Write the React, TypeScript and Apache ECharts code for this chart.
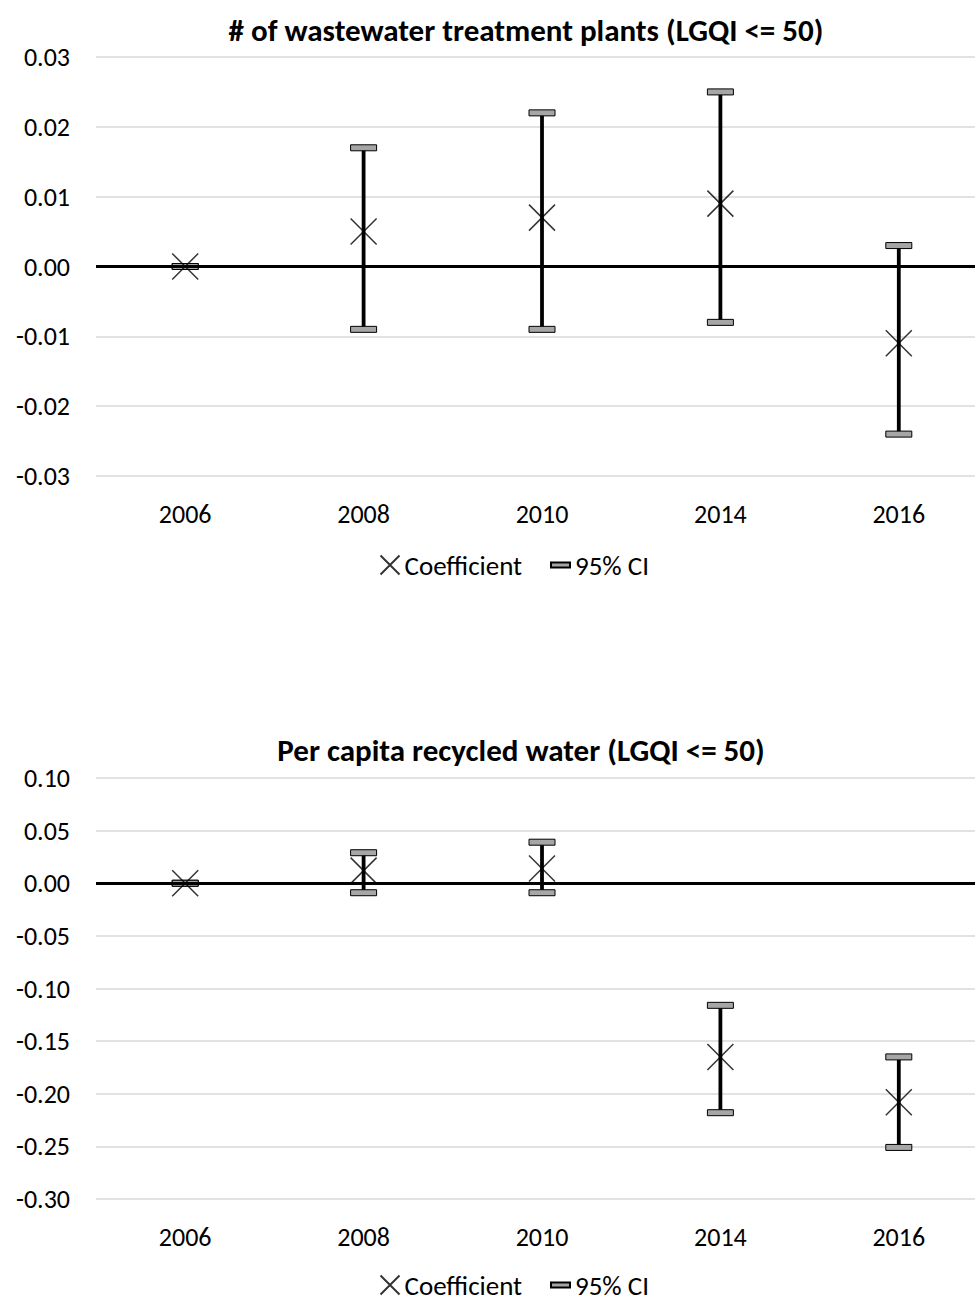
import React, { useEffect, useRef } from "react";
import * as echarts from "echarts";

const years = ["2006", "2008", "2010", "2014", "2016"];

// Top chart: # of wastewater treatment plants
const topCoef = [0, 0.005, 0.007, 0.009, -0.011];
const topLower = [0, -0.009, -0.009, -0.008, -0.024];
const topUpper = [0, 0.017, 0.022, 0.025, 0.003];

// Bottom chart: per capita recycled water
const botCoef = [0, 0.012, 0.014, -0.165, -0.208];
const botLower = [0, -0.009, -0.009, -0.218, -0.251];
const botUpper = [0, 0.029, 0.039, -0.116, -0.165];

const FONT = "Carlito, Lato, 'Open Sans', sans-serif";
const X_PATH = "path://M0,0L10,10M10,0L0,10";

function ciRender(params: any, api: any) {
  const x = api.value(0);
  const lo = api.value(1);
  const hi = api.value(2);
  const pLo = api.coord([x, lo]);
  const pHi = api.coord([x, hi]);
  const w = 26;
  const h = 6;
  const capStyle = { fill: "#a6a6a6", stroke: "#000", lineWidth: 1 };
  return {
    type: "group",
    children: [
      {
        type: "line",
        shape: { x1: pLo[0], y1: pLo[1], x2: pHi[0], y2: pHi[1] },
        style: { stroke: "#000", lineWidth: 3.8 },
      },
      {
        type: "rect",
        shape: { x: pHi[0] - w / 2, y: pHi[1] - h / 2, width: w, height: h },
        style: capStyle,
      },
      {
        type: "rect",
        shape: { x: pLo[0] - w / 2, y: pLo[1] - h / 2, width: w, height: h },
        style: capStyle,
      },
    ],
  };
}

export default function App() {
  const ref = useRef<HTMLDivElement>(null);
  useEffect(() => {
    if (!ref.current) return;
    const chart = echarts.init(ref.current, null, { renderer: "svg" });

    const grids = [
      { left: 96, top: 57, width: 892, height: 419 },
      { left: 96, top: 778, width: 892, height: 421 },
    ];

    const mkX = (gi: number) => ({
      type: "category",
      gridIndex: gi,
      data: years,
      axisLine: { show: false, onZero: false },
      axisTick: { show: false },
      axisLabel: { color: "#000", fontSize: 26, fontFamily: FONT, margin: 25 },
      splitLine: { show: false },
    });

    const mkY = (gi: number, min: number, max: number, interval: number) => ({
      type: "value",
      gridIndex: gi,
      min,
      max,
      interval,
      axisLine: { show: false },
      axisTick: { show: false },
      axisLabel: {
        color: "#000",
        fontSize: 26,
        fontFamily: FONT,
        margin: 26,
        formatter: (v: number) => v.toFixed(2),
      },
      splitLine: { lineStyle: { color: "#d9d9d9", width: 1.5 } },
    });

    const mkSeries = (gi: number, coef: number[], lo: number[], hi: number[]) => [
      {
        type: "line",
        xAxisIndex: gi,
        yAxisIndex: gi,
        data: [],
        z: 1,
        silent: true,
        markLine: {
          silent: true,
          symbol: ["none", "none"],
          label: { show: false },
          lineStyle: { color: "#000", width: 3, type: "solid" },
          data: [{ yAxis: 0 }],
        },
      },
      {
        name: "95% CI",
        type: "custom",
        xAxisIndex: gi,
        yAxisIndex: gi,
        z: 2,
        renderItem: ciRender,
        itemStyle: { color: "#a6a6a6", borderColor: "#000", borderWidth: 1 },
        encode: { x: 0, y: [1, 2] },
        data: years.map((_, i) => [i, lo[i], hi[i]]),
      },
      {
        name: "Coefficient",
        type: "scatter",
        xAxisIndex: gi,
        yAxisIndex: gi,
        z: 3,
        symbol: X_PATH,
        symbolSize: 26,
        itemStyle: { color: "none", borderColor: "#000", borderWidth: 1.5 },
        data: coef,
      },
    ];

    const mkLegend = (top: number, left: number, name: string, icon: string, w: number, h: number) => ({
      top,
      left,
      itemWidth: w,
      itemHeight: h,
      itemGap: 0,
      padding: 0,
      selectedMode: false,
      textStyle: { color: "#000", fontSize: 27, fontFamily: FONT, lineHeight: 30 },
      data: [{ name, icon }],
    });

    const titleStyle = { fontSize: 31, fontWeight: "bold", color: "#000", fontFamily: FONT };

    chart.setOption({
      animation: false,
      backgroundColor: "#fff",
      title: [
        {
          text: "# of wastewater treatment plants (LGQI <= 50)",
          left: 521,
          top: 9,
          textAlign: "center",
          textStyle: titleStyle,
        },
        {
          text: "Per capita recycled water (LGQI <= 50)",
          left: 516,
          top: 729,
          textAlign: "center",
          textStyle: titleStyle,
        },
      ],
      legend: [
        mkLegend(550, 378, "Coefficient", X_PATH, 19, 19),
        mkLegend(550, 550, "95% CI", "rect", 19, 5),
        mkLegend(1270, 378, "Coefficient", X_PATH, 19, 19),
        mkLegend(1270, 550, "95% CI", "rect", 19, 5),
      ],
      grid: grids,
      xAxis: [mkX(0), mkX(1)],
      yAxis: [mkY(0, -0.03, 0.03, 0.01), mkY(1, -0.3, 0.1, 0.05)],
      series: [
        ...mkSeries(0, topCoef, topLower, topUpper),
        ...mkSeries(1, botCoef, botLower, botUpper),
      ],
    });

    return () => chart.dispose();
  }, []);

  return (
    <div
      style={{
        position: "absolute",
        left: 0,
        top: 0,
        width: 975,
        height: 1300,
        overflow: "hidden",
        background: "#fff",
      }}
    >
      <div ref={ref} style={{ width: 992, height: 1300 }} />
    </div>
  );
}
